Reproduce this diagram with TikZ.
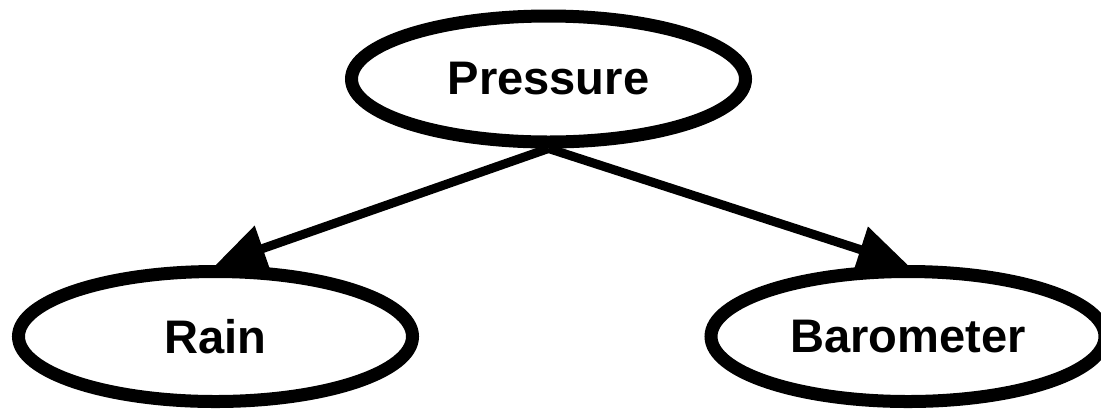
\documentclass[tikz,border=0pt]{standalone}
\usepackage{fontspec}
\setmainfont{Liberation Sans}
\usepackage{xcolor}
\usepackage{tikz}
\usetikzlibrary{shapes.geometric,arrows.meta}
\definecolor{edgeblk}{RGB}{0,0,0}

\begin{document}
\begin{tikzpicture}[every node/.style={font=\fontsize{13.4}{15}\selectfont\bfseries},
    varnode/.style={ellipse,draw=edgeblk,line width=3.7pt,fill=white,inner sep=0pt,
      minimum width=3.94cm,minimum height=1.30cm},
    causal/.style={edgeblk,line width=2.55pt,-{Triangle[length=5mm,width=4.6mm]}}]

    \useasboundingbox (0,0) rectangle (11.01,4.09);

    % Variables
    \node[varnode,minimum height=1.26cm] (pressure) at (5.485,3.30) {Pressure};
    \node[varnode] (rain) at (2.155,0.725) {Rain};
    \node[varnode] (barometer) at (9.08,0.725) {Barometer};

    % Dependencies
    \draw[causal] (pressure.south) -- (rain.north);
    \draw[causal] (pressure.south) -- (barometer.north);

  \end{tikzpicture}
\end{document}
